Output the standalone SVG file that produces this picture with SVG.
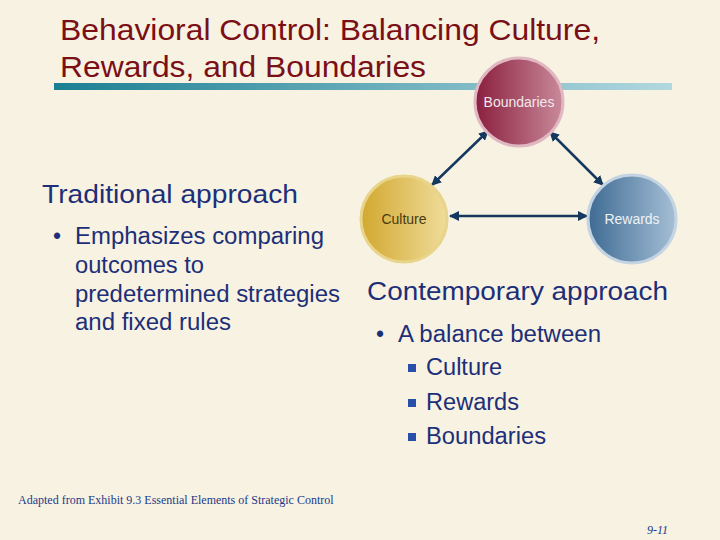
<svg xmlns="http://www.w3.org/2000/svg" width="720" height="540" viewBox="0 0 720 540">
<defs>
<linearGradient id="bar" x1="0" x2="1" y1="0" y2="0"><stop offset="0" stop-color="#1a7f92"/><stop offset="1" stop-color="#b2d8e0"/></linearGradient>
<linearGradient id="gb" x1="0" x2="1"><stop offset="0" stop-color="#8a1e3e"/><stop offset="1" stop-color="#c98a9a"/></linearGradient>
<linearGradient id="gc" x1="0" x2="1"><stop offset="0" stop-color="#d1a830"/><stop offset="1" stop-color="#f0dc9a"/></linearGradient>
<linearGradient id="gr" x1="0" x2="1"><stop offset="0" stop-color="#3f6b93"/><stop offset="1" stop-color="#a5bfd6"/></linearGradient>
<marker id="ah" viewBox="0 0 10 10" refX="9" refY="5" markerWidth="4" markerHeight="4" orient="auto-start-reverse"><path d="M0,0L10,5L0,10z" fill="#14385e"/></marker>
<style>
.t{font-family:"Liberation Sans",Arial,sans-serif}
.body{font-size:23px;fill:#1c2f78}
.node{font-family:"Liberation Sans",Arial,sans-serif;font-size:14px;text-anchor:middle}
.c{stroke:#14385e;stroke-width:2.5;fill:none;marker-start:url(#ah);marker-end:url(#ah)}
.sq{fill:#2a4fa8}
</style>
</defs>
<rect width="720" height="540" fill="#f8f2e2"/>
<text class="t" x="60" y="40" font-size="29" fill="#7a0f16" textLength="540" lengthAdjust="spacingAndGlyphs">Behavioral Control: Balancing Culture,</text>
<text class="t" x="60" y="77" font-size="29" fill="#7a0f16" textLength="366" lengthAdjust="spacingAndGlyphs">Rewards, and Boundaries</text>
<rect x="54" y="83" width="618" height="7" fill="url(#bar)"/>
<g id="connectors">
<line class="c" x1="488" y1="131" x2="432" y2="185"/>
<line class="c" x1="550" y1="132" x2="603" y2="185"/>
<line class="c" x1="450" y1="216" x2="587" y2="216"/>
</g>
<g id="boundaries"><circle cx="519" cy="102" r="44" fill="url(#gb)" stroke="#e0b8c2" stroke-width="3"/><text class="node" x="519" y="107" fill="#f3e8ec">Boundaries</text></g>
<g id="culture"><circle cx="404" cy="219" r="43" fill="url(#gc)" stroke="#e8d48a" stroke-width="3"/><text class="node" x="404" y="224" fill="#4a3a10">Culture</text></g>
<g id="rewards"><circle cx="632" cy="219" r="44" fill="url(#gr)" stroke="#c4d4e2" stroke-width="3"/><text class="node" x="632" y="224" fill="#eef2f6">Rewards</text></g>
<text class="t" x="42" y="203" font-size="26" fill="#1c2f78" textLength="256" lengthAdjust="spacingAndGlyphs">Traditional approach</text>
<text class="t body" x="53" y="244">•</text>
<text class="t body" x="75" y="244" textLength="249" lengthAdjust="spacingAndGlyphs">Emphasizes comparing</text>
<text class="t body" x="75" y="273" textLength="129" lengthAdjust="spacingAndGlyphs">outcomes to</text>
<text class="t body" x="75" y="302" textLength="265" lengthAdjust="spacingAndGlyphs">predetermined strategies</text>
<text class="t body" x="75" y="330" textLength="156" lengthAdjust="spacingAndGlyphs">and fixed rules</text>
<text class="t" x="367" y="300" font-size="26" fill="#1c2f78" textLength="301" lengthAdjust="spacingAndGlyphs">Contemporary approach</text>
<text class="t body" x="376" y="342">•</text>
<text class="t body" x="398" y="342" textLength="203" lengthAdjust="spacingAndGlyphs">A balance between</text>
<rect class="sq" x="408" y="364" width="8" height="8"/><text class="t body" x="426" y="375" textLength="76" lengthAdjust="spacingAndGlyphs">Culture</text>
<rect class="sq" x="408" y="399" width="8" height="8"/><text class="t body" x="426" y="410" textLength="93" lengthAdjust="spacingAndGlyphs">Rewards</text>
<rect class="sq" x="408" y="433" width="8" height="8"/><text class="t body" x="426" y="444" textLength="120" lengthAdjust="spacingAndGlyphs">Boundaries</text>
<text x="18" y="504" font-family="Liberation Serif,serif" font-size="12" fill="#1a3a8a">Adapted from Exhibit 9.3 Essential Elements of Strategic Control</text>
<text x="668" y="534" font-family="Liberation Serif,serif" font-size="12" font-style="italic" fill="#1a3a8a" text-anchor="end">9-11</text>
</svg>
